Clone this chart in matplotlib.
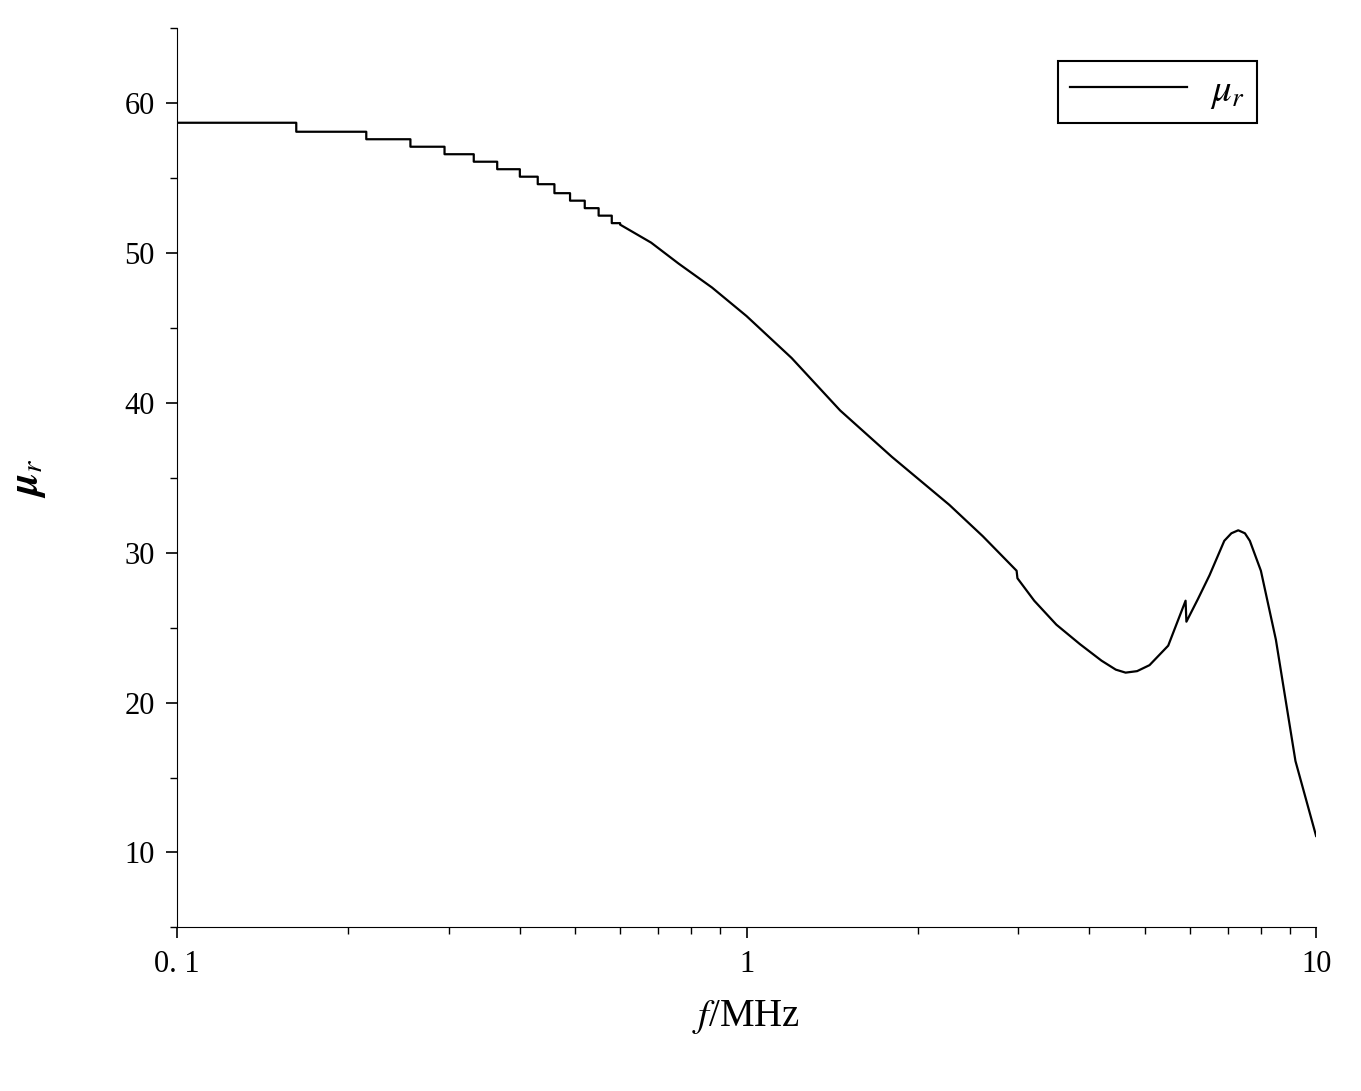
import matplotlib
matplotlib.use("Agg")
import matplotlib.pyplot as plt
import numpy as np
from matplotlib.ticker import FixedLocator, NullFormatter

plt.rcParams['font.family'] = ['Liberation Serif', 'DejaVu Serif']
plt.rcParams['mathtext.fontset'] = 'stix'

# step region: (f_start, level)
step_f = [0.1, 0.162, 0.215, 0.257, 0.295, 0.332, 0.365, 0.40, 0.43, 0.46, 0.49, 0.52, 0.55, 0.58]
step_v = [58.7, 58.1, 57.6, 57.1, 56.6, 56.1, 55.6, 55.1, 54.6, 54.0, 53.5, 53.0, 52.5, 52.0]
smooth_f = [0.60, 0.68, 0.76, 0.87, 1.0, 1.2, 1.46, 1.8, 2.27, 2.6, 2.98, 2.99, 3.2, 3.5, 3.85, 4.2, 4.45, 4.63,
            4.85, 5.1, 5.5, 5.9, 5.92, 6.2, 6.5, 6.9, 7.1, 7.3, 7.5, 7.65, 8.0, 8.5, 9.2, 10.0]
smooth_v = [51.9, 50.7, 49.3, 47.7, 45.8, 43.0, 39.5, 36.4, 33.2, 31.1, 28.8, 28.3, 26.8, 25.2, 23.9, 22.8, 22.2, 22.0,
            22.1, 22.5, 23.8, 26.8, 25.4, 26.9, 28.5, 30.8, 31.3, 31.5, 31.3, 30.8, 28.8, 24.2, 16.1, 11.1]

xs, ys = [], []
for i, (f, v) in enumerate(zip(step_f, step_v)):
    xs.append(f); ys.append(v)
    nxt = step_f[i + 1] if i + 1 < len(step_f) else smooth_f[0]
    xs.append(nxt); ys.append(v)
xs += smooth_f; ys += smooth_v

fig = plt.figure(figsize=(13.61, 10.91), dpi=100)
ax = fig.add_axes([0.130, 0.150, 0.837, 0.824])
ax.plot(xs, ys, color='black', lw=1.6, label=r'$\mu_r$')
ax.set_xscale('log')
ax.set_xlim(0.1, 10)
ax.set_ylim(5, 65)
ax.set_xticks([0.1, 1, 10])
ax.set_xticklabels(['0. 1', '1', '10'])
ax.xaxis.set_minor_locator(FixedLocator([k * 10.0 ** e for e in (-1, 0) for k in range(2, 10)]))
ax.xaxis.set_minor_formatter(NullFormatter())
ax.set_yticks([10, 20, 30, 40, 50, 60])
ax.yaxis.set_minor_locator(FixedLocator(np.arange(5, 66, 5)))
for s in ('top', 'right'):
    ax.spines[s].set_visible(False)
ax.tick_params(which='major', direction='out', length=8, width=1.2, labelsize=22, pad=8)
ax.tick_params(which='minor', direction='out', length=5, width=1.0)
ax.set_xlabel(r'$f$/MHz', fontsize=28, labelpad=14)
ax.set_ylabel(r'$\boldsymbol{\mu}_r$', fontsize=30, labelpad=55)
leg = ax.legend(loc='upper right', fontsize=28, fancybox=False, edgecolor='black',
                framealpha=1, handlelength=3, borderpad=0.3, handletextpad=0.6,
                bbox_to_anchor=(0.965, 0.985))
leg.get_frame().set_linewidth(1.5)
fig.savefig('out.png', dpi=100)
